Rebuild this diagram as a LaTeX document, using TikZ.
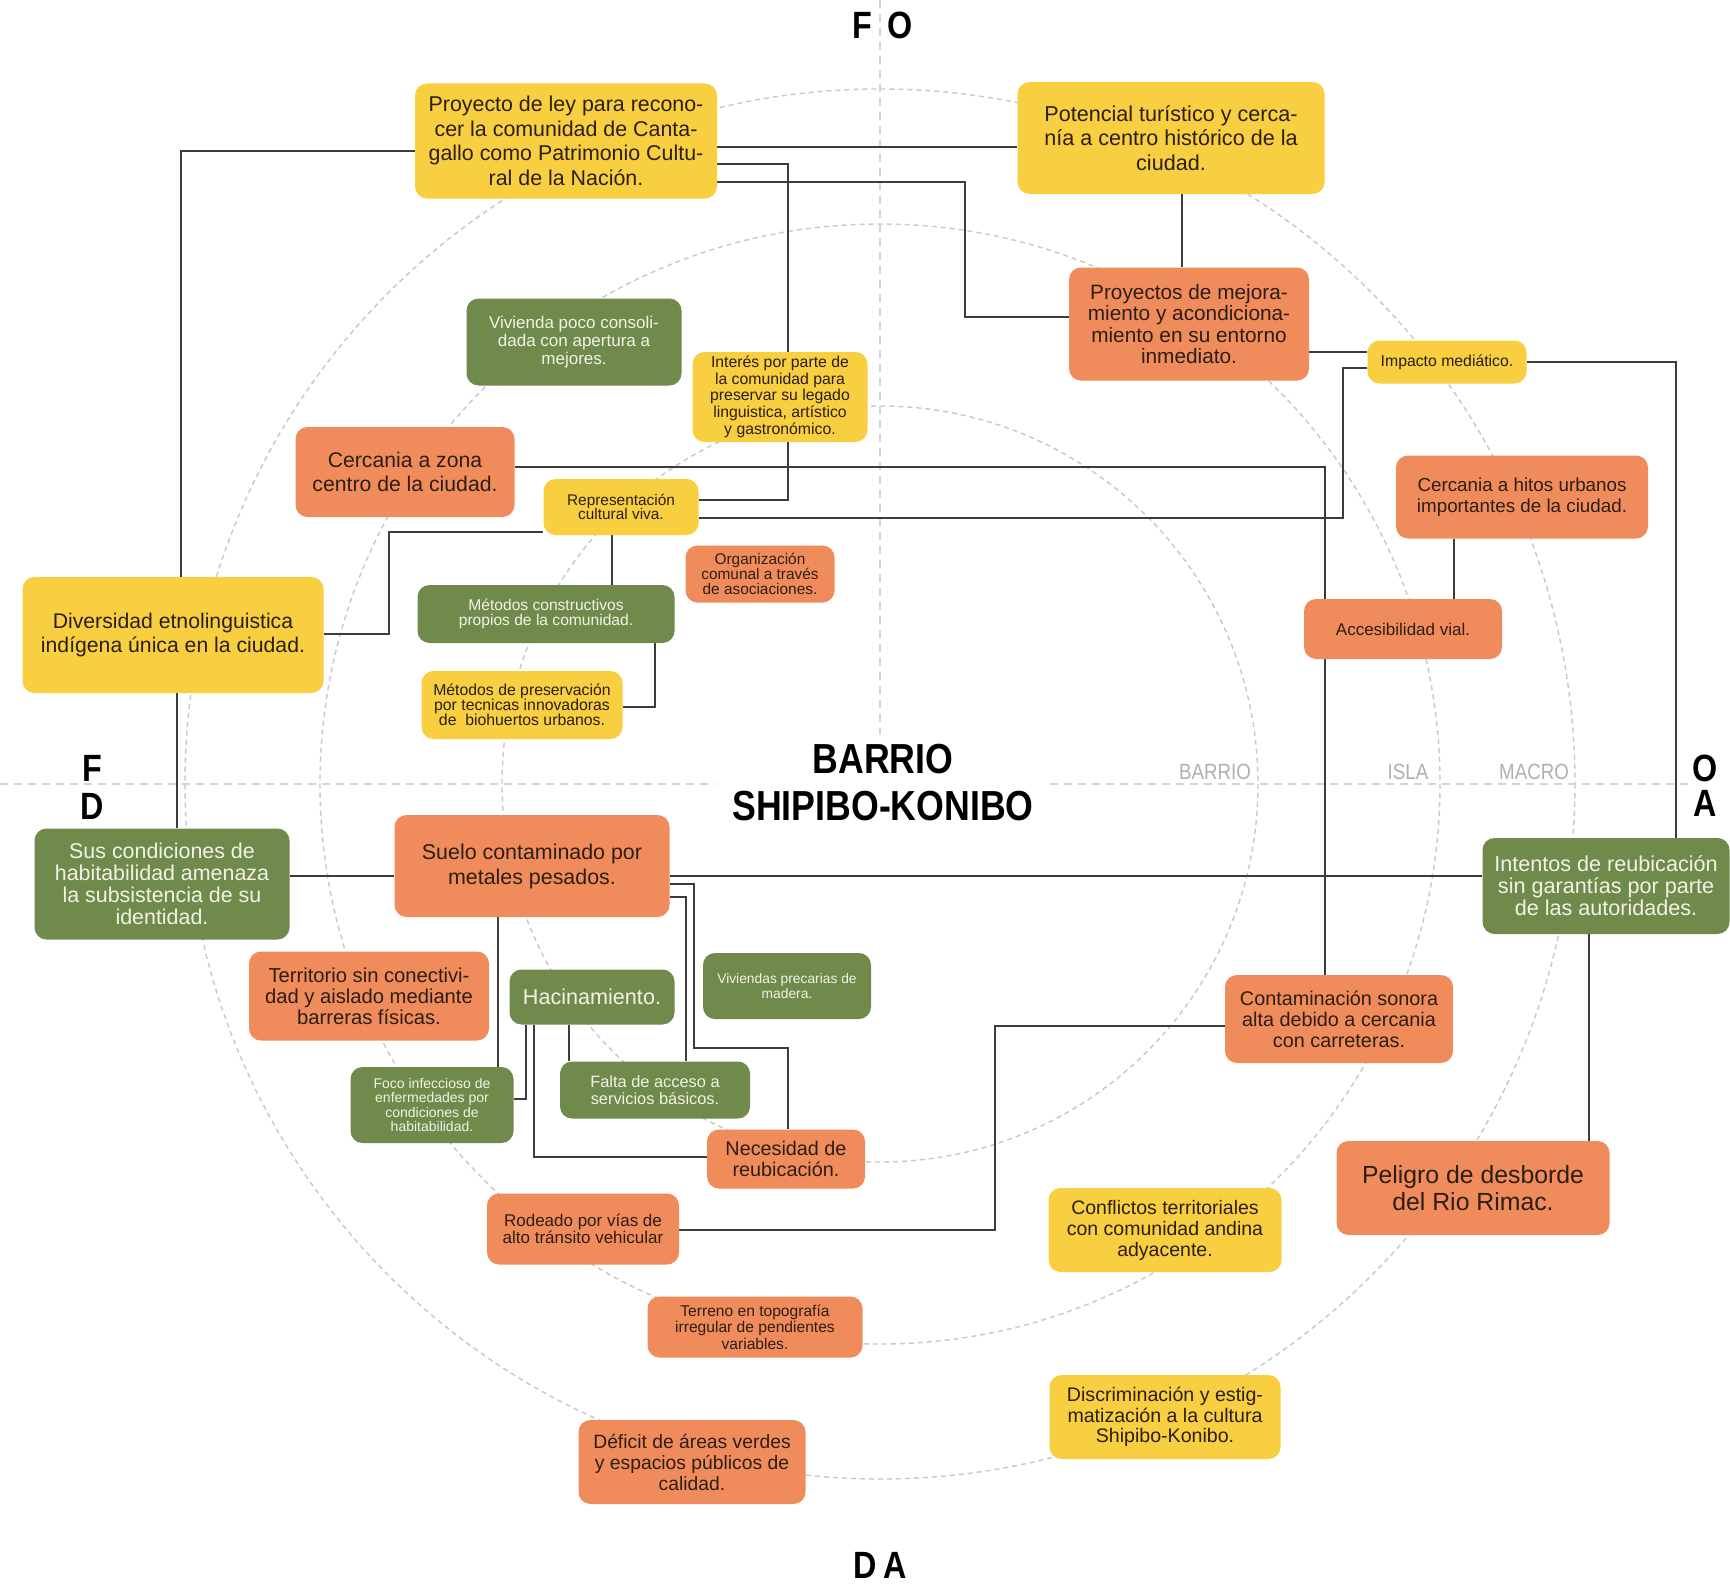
\documentclass[tikz,border=0pt]{standalone}
\usepackage{fontspec}
\setmainfont{Liberation Sans}
\newfontfamily\titlefont{Liberation Sans}[FakeStretch=0.85]
\usetikzlibrary{backgrounds}

\definecolor{boxyellow}{RGB}{247,207,64}
\definecolor{boxorange}{RGB}{240,140,92}
\definecolor{boxgreen}{RGB}{112,138,76}
\definecolor{inkdark}{RGB}{45,30,20}
\definecolor{inklight}{RGB}{242,242,230}
\definecolor{linegray}{RGB}{60,60,60}
\definecolor{ringgray}{RGB}{196,199,212}
\definecolor{axisgray}{RGB}{212,212,216}
\definecolor{ringtext}{RGB}{175,175,182}

\newcommand{\fsz}[2]{\fontsize{#1}{#2}\selectfont}

\tikzstyle{box} = [rectangle, rounded corners=6pt, inner sep=0pt, align=center]
\tikzstyle{yel} = [box, fill=boxyellow, text=inkdark]
\tikzstyle{ora} = [box, fill=boxorange, text=inkdark]
\tikzstyle{grn} = [box, fill=boxgreen, text=inklight]
\tikzstyle{link} = [draw=linegray, line width=1pt]
\tikzstyle{ring} = [draw=ringgray, line width=0.7pt, dash pattern=on 2.5pt off 2pt]
\tikzstyle{axis} = [draw=axisgray, line width=0.6pt, dash pattern=on 4pt off 3pt]
\tikzstyle{quad} = [inner sep=0pt, text=black, font=\titlefont\bfseries\fsz{19}{19}]
\tikzstyle{ringlabel} = [inner sep=0pt, text=ringtext, font=\titlefont\fsz{11}{11}]
\tikzset{bsize/.style 2 args={minimum width=#1pt, minimum height=#2pt}}

\begin{document}
\begin{tikzpicture}[x=0.5pt, y=-0.5pt]
\useasboundingbox (0,0) rectangle (1730,1584);

% quadrant letters and title
\node (quadF) [quad] at (862,25) {F};
\node (quadO) [quad] at (900,25) {O};
\node (quadF2) [quad] at (92,768) {F};
\node (quadD) [quad] at (92,806) {D};
\node (quadO2) [quad] at (1705,768) {O};
\node (quadA) [quad] at (1705,803) {A};
\node (quadDA) [quad] at (880,1565) {D\,A};
\node (title) [inner sep=0pt, align=center, font=\titlefont\bfseries\fsz{21}{23.5}] at (883,783) {BARRIO\\SHIPIBO-KONIBO};
\node (lblBarrio) [ringlabel] at (1215,772) {BARRIO};
\node (lblIsla) [ringlabel] at (1408,772) {ISLA};
\node (lblMacro) [ringlabel] at (1534,772) {MACRO};

% boxes
\node (proy) [yel, bsize={151}{57.5}, font=\fsz{10.7}{12.3}] at (566,141) {Proyecto de ley para recono-\\cer la comunidad de Canta-\\gallo como Patrimonio Cultu-\\ral de la Nación.};
\node (pot) [yel, bsize={153.5}{56}, font=\fsz{10.8}{12.1}] at (1171,138) {Potencial turístico y cerca-\\nía a centro histórico de la\\ciudad.};
\node (mejora) [ora, bsize={120}{56.5}, font=\fsz{10.4}{10.8}] at (1189,324) {Proyectos de mejora-\\miento y acondiciona-\\miento en su entorno\\inmediato.};
\node (impacto) [yel, bsize={79.5}{21.5}, font=\fsz{7.9}{8}] at (1447,362) {Impacto mediático.};
\node (vivcons) [grn, bsize={107.5}{43.5}, font=\fsz{8.5}{9}] at (574,342) {Vivienda poco consoli-\\dada con apertura a\\mejores.};
\node (interes) [yel, bsize={87.5}{45}, font=\fsz{7.9}{7.3}] at (780,397) {Interés por parte de\\la comunidad para\\preservar su legado\\linguistica, artístico\\y gastronómico.};
\node (centro) [ora, bsize={109.5}{45}, font=\fsz{10.6}{12}] at (405,472) {Cercania a zona\\centro de la ciudad.};
\node (repr) [yel, bsize={77.5}{28}, font=\fsz{7.7}{7.3}] at (621,507) {Representación\\cultural viva.};
\node (hitos) [ora, bsize={126}{41.5}, font=\fsz{9.4}{10.5}] at (1522,497) {Cercania a hitos urbanos\\importantes de la ciudad.};
\node (organ) [ora, bsize={74.5}{28.5}, font=\fsz{7.7}{7.3}] at (760,574) {Organización\\comunal a través\\de asociaciones.};
\node (metcons) [grn, bsize={128.5}{29}, font=\fsz{7.8}{7.6}] at (546,614) {Métodos constructivos\\propios de la comunidad.};
\node (acces) [ora, bsize={99}{30}, font=\fsz{8.5}{9}] at (1403,629) {Accesibilidad vial.};
\node (divers) [yel, bsize={150.5}{58}, font=\fsz{10.6}{12}] at (173,635) {Diversidad etnolinguistica\\indígena única en la ciudad.};
\node (metpres) [yel, bsize={100.5}{34}, font=\fsz{7.9}{7.4}] at (522,705) {Métodos de preservación\\por tecnicas innovadoras\\de~ biohuertos urbanos.};
\node (habit) [grn, bsize={127.5}{55.5}, font=\fsz{10.7}{11}] at (162,884) {Sus condiciones de\\habitabilidad amenaza\\la subsistencia de su\\identidad.};
\node (suelo) [ora, bsize={137.5}{51}, font=\fsz{10.7}{12.5}] at (532,866) {Suelo contaminado por\\metales pesados.};
\node (intentos) [grn, bsize={123.5}{48}, font=\fsz{10.8}{11}] at (1606,886) {Intentos de reubicación\\sin garantías por parte\\de las autoridades.};
\node (territ) [ora, bsize={120}{44.5}, font=\fsz{10.1}{10.5}] at (369,996) {Territorio sin conectivi-\\dad y aislado mediante\\barreras físicas.};
\node (hacin) [grn, bsize={82.5}{27.5}, font=\fsz{10.8}{11}] at (592,997) {Hacinamiento.};
\node (vivprec) [grn, bsize={84}{33}, font=\fsz{6.9}{7.7}] at (787,986) {Viviendas precarias de\\madera.};
\node (sonora) [ora, bsize={114}{44}, font=\fsz{9.9}{10.5}] at (1339,1019) {Contaminación sonora\\alta debido a cercania\\con carreteras.};
\node (foco) [grn, bsize={81.5}{38}, font=\fsz{7}{7.2}] at (432,1105) {Foco infeccioso de\\enfermedades por\\condiciones de\\habitabilidad.};
\node (falta) [grn, bsize={95}{28.5}, font=\fsz{8.2}{8.3}] at (655,1090) {Falta de acceso a\\servicios básicos.};
\node (necesidad) [ora, bsize={79}{29.5}, font=\fsz{9.9}{10.5}] at (786,1159) {Necesidad de\\reubicación.};
\node (peligro) [ora, bsize={136.5}{47}, font=\fsz{12.4}{13.2}] at (1473,1188) {Peligro de desborde\\del Rio Rimac.};
\node (rodeado) [ora, bsize={96}{35.5}, font=\fsz{8.5}{8.8}] at (583,1229) {Rodeado por vías de\\alto tránsito vehicular};
\node (conflic) [yel, bsize={116.5}{42}, font=\fsz{9.75}{10.5}] at (1165,1230) {Conflictos territoriales\\con comunidad andina\\adyacente.};
\node (terreno) [ora, bsize={107.5}{30.5}, font=\fsz{7.8}{7.2}] at (755,1327) {Terreno en topografía\\irregular de pendientes\\variables.};
\node (discrim) [yel, bsize={115.5}{42}, font=\fsz{9.8}{10.2}] at (1165,1417) {Discriminación y estig-\\matización a la cultura\\Shipibo-Konibo.};
\node (deficit) [ora, bsize={113.5}{42}, font=\fsz{9.65}{10.5}] at (692,1462) {Déficit de áreas verdes\\y espacios públicos de\\calidad.};

\begin{scope}[on background layer]
\fill[white] (0,0) rectangle (1730,1584);
% rings and axes
\foreach \r in {378,560,695}
	\draw[ring] (880,784) circle [radius=\r];
\draw[axis] (0,784) -- (715,784);
\draw[axis] (1050,784) -- (1690,784);
\draw[axis] (880,0) -- (880,735);

% links
\coordinate (k1) at (181,151);
\draw[link] (proy.west |- k1) -- (k1) -- (divers.north -| k1);
\coordinate (k2) at (0,147);
\draw[link] (proy.east |- k2) -- (pot.west |- k2);
\coordinate (k3) at (788,164);
\coordinate (k3b) at (788,500);
\draw[link] (proy.east |- k3) -- (k3) -- (interes.north -| k3);
\draw[link] (interes.south -| k3b) -- (k3b) -- (repr.east |- k3b);
\coordinate (k4) at (965,182);
\coordinate (k4b) at (965,317);
\draw[link] (proy.east |- k4) -- (k4) -- (k4b) -- (mejora.west |- k4b);
\coordinate (k5) at (1182,0);
\draw[link] (pot.south -| k5) -- (mejora.north -| k5);
\coordinate (k6) at (0,352);
\draw[link] (mejora.east |- k6) -- (impacto.west |- k6);
\coordinate (k7) at (1343,368);
\coordinate (k7b) at (1343,518);
\draw[link] (impacto.west |- k7) -- (k7) -- (k7b) -- (repr.east |- k7b);
\coordinate (k8) at (1676,362);
\draw[link] (impacto.east |- k8) -- (k8) -- (intentos.north -| k8);
\coordinate (k9) at (1325,467);
\draw[link] (centro.east |- k9) -- (k9) -- (sonora.north -| k9);
\coordinate (k10) at (389,532);
\coordinate (k10b) at (389,634);
\draw[link] (repr.west |- k10) -- (k10) -- (k10b) -- (divers.east |- k10b);
\coordinate (k11) at (612,0);
\draw[link] (repr.south -| k11) -- (metcons.north -| k11);
\coordinate (k12) at (655,707);
\draw[link] (metcons.south -| k12) -- (k12) -- (metpres.east |- k12);
\coordinate (k13) at (1454,0);
\draw[link] (hitos.south -| k13) -- (acces.north -| k13);
\coordinate (k14) at (177,0);
\draw[link] (divers.south -| k14) -- (habit.north -| k14);
\coordinate (k15) at (0,876);
\draw[link] (habit.east |- k15) -- (suelo.west |- k15);
\draw[link] (suelo.east |- k15) -- (intentos.west |- k15);
\coordinate (k17) at (694,884);
\coordinate (k17b) at (694,1048);
\coordinate (k17c) at (788,1048);
\draw[link] (suelo.east |- k17) -- (k17) -- (k17b) -- (k17c) -- (necesidad.north -| k17c);
\coordinate (k18) at (686,897);
\draw[link] (suelo.east |- k18) -- (k18) -- (falta.north -| k18);
\coordinate (k19) at (498,0);
\draw[link] (suelo.south -| k19) -- (foco.north -| k19);
\coordinate (k20) at (526,1099);
\draw[link] (hacin.south -| k20) -- (k20) -- (foco.east |- k20);
\coordinate (k21) at (534,1157);
\draw[link] (hacin.south -| k21) -- (k21) -- (necesidad.west |- k21);
\coordinate (k22) at (569,0);
\draw[link] (hacin.south -| k22) -- (falta.north -| k22);
\coordinate (k23) at (995,1026);
\coordinate (k23b) at (995,1230);
\draw[link] (sonora.west |- k23) -- (k23) -- (k23b) -- (rodeado.east |- k23b);
\coordinate (k24) at (1589,0);
\draw[link] (intentos.south -| k24) -- (peligro.north -| k24);
\end{scope}
\end{tikzpicture}
\end{document}
